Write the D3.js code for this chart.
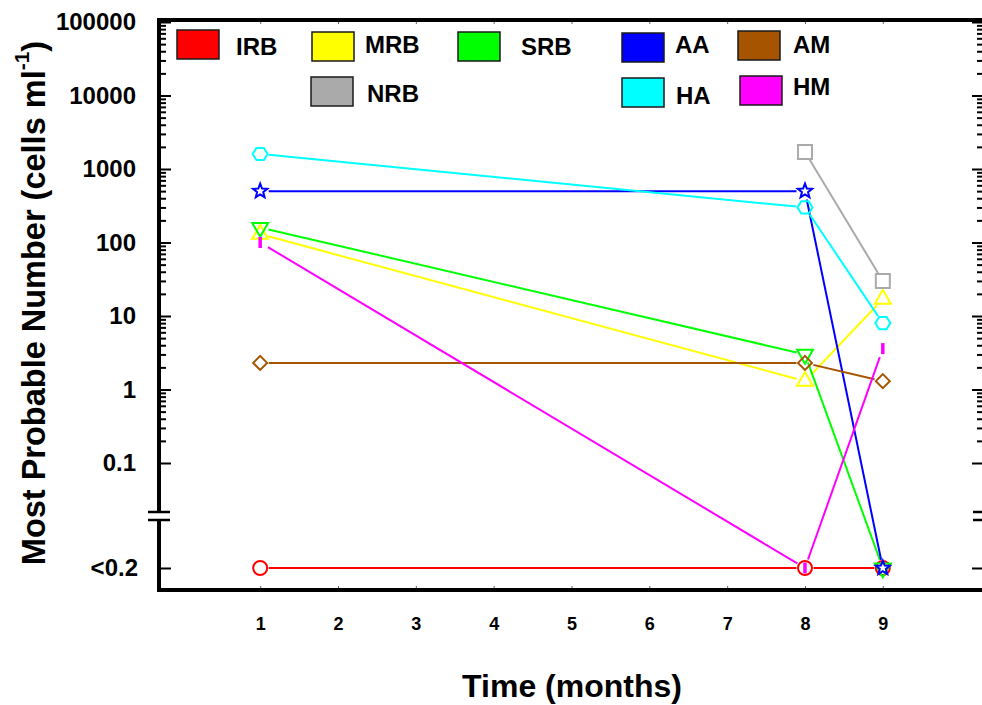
<!DOCTYPE html>
<html>
<head>
<meta charset="utf-8">
<script src="https://cdn.jsdelivr.net/npm/d3@7"></script>
<style>
  html, body { margin: 0; padding: 0; background: #fff; }
  svg { display: block; font-family: "Liberation Sans", Arial, sans-serif; font-weight: bold; }
</style>
</head>
<body>
<svg id="chart" width="982" height="705"></svg>
<script>
// ---- data -------------------------------------------------------------
const BELOW = "<0.2";                 // below detection limit
const months = [1, 8, 9];
const xTicks = [1, 2, 3, 4, 5, 6, 7, 8, 9];

const IRB = [BELOW, BELOW, BELOW];
const MRB = [130, 1.3, 17];
const SRB = [160, 3, BELOW];
const NRB = [null, 1700, 30];
const AA  = [500, 500, BELOW];
const AM  = [2.3, 2.3, 1.3];
const HA  = [1600, 300, 8];
const HM  = [100, BELOW, 3.6];

const seriesNames  = ["IRB", "MRB", "SRB", "NRB", "AA", "AM", "HA", "HM"];
const seriesValues = [IRB, MRB, SRB, NRB, AA, AM, HA, HM];

const yMajorTicks = [0.1, 1, 10, 100, 1000, 10000, 100000];
const yTickLabels = ["0.1", "1", "10", "100", "1000", "10000", "100000"];

// ---- styles -------------------------------------------------------------
const colors = {
  IRB: "#ff0000", MRB: "#ffff00", SRB: "#00ff00", NRB: "#aaaaaa",
  AA: "#0000ff", AM: "#a65400", HA: "#00ffff", HM: "#ff00ff"
};
const shapes = {
  IRB: "circle", MRB: "triUp", SRB: "triDown", NRB: "square",
  AA: "star", AM: "diamond", HA: "hexagon", HM: "dash"
};

// legend placement: swatch top-left and label baseline
const legendLayout = {
  IRB: { sx: 177, sy: 30, tx: 236, ty: 55 },
  MRB: { sx: 312, sy: 32, tx: 365, ty: 53 },
  SRB: { sx: 458, sy: 32, tx: 521, ty: 55 },
  NRB: { sx: 311, sy: 77, tx: 367, ty: 102 },
  AA:  { sx: 622, sy: 33, tx: 675, ty: 53 },
  AM:  { sx: 738, sy: 31, tx: 793, ty: 53 },
  HA:  { sx: 622, sy: 78, tx: 676, ty: 104 },
  HM:  { sx: 740, sy: 76, tx: 793, ty: 95 }
};

// ---- frame ----------------------------------------------------------------
const frameLeft = 159, frameRight = 984, frameTop = 20, frameBottom = 590;
const breakTop = 512, breakBottom = 520;

const svg = d3.select("#chart");

const x = d3.scaleLinear().domain([-0.3, 10.3]).range([frameLeft, frameRight]);
const yLog = d3.scaleLog().domain([1e5, 0.1]).range([22, 463]);
const yLow = d3.scalePoint().domain([BELOW]).range([568, 568]);
const yVal = v => (v === BELOW ? yLow(v) : yLog(v));

const minorTicks = [];
yMajorTicks.slice(0, -1).forEach(d => {
  for (let k = 2; k <= 9; k++) minorTicks.push(d * k);
});

function styleAxis(g, fontSize) {
  g.select(".domain").remove();
  g.selectAll(".tick line").attr("stroke", "#000").attr("stroke-width", 2);
  g.selectAll(".tick text")
    .attr("fill", "#000")
    .attr("font-size", fontSize)
    .attr("font-weight", "bold")
    .attr("font-family", "'Liberation Sans', Arial, sans-serif");
  g.attr("font-family", null).attr("font-size", null);
}

// left axis: major, minor, lower segment
svg.append("g").attr("transform", `translate(${frameLeft},0)`)
  .call(d3.axisLeft(yLog).tickValues(yMajorTicks)
    .tickFormat((d, i) => yTickLabels[i]).tickSize(-12).tickPadding(23))
  .call(g => styleAxis(g, 24));
svg.append("g").attr("transform", `translate(${frameLeft},0)`)
  .call(d3.axisLeft(yLog).tickValues(minorTicks).tickFormat("").tickSize(-7))
  .call(g => styleAxis(g, 24));
svg.append("g").attr("transform", `translate(${frameLeft},0)`)
  .call(d3.axisLeft(yLow).tickSize(-12).tickPadding(21))
  .call(g => styleAxis(g, 24));

// right axis mirrors the left ticks
svg.append("g").attr("transform", `translate(${frameRight},0)`)
  .call(d3.axisRight(yLog).tickValues(yMajorTicks).tickFormat("").tickSize(-12))
  .call(g => styleAxis(g, 24));
svg.append("g").attr("transform", `translate(${frameRight},0)`)
  .call(d3.axisRight(yLog).tickValues(minorTicks).tickFormat("").tickSize(-7))
  .call(g => styleAxis(g, 24));
svg.append("g").attr("transform", `translate(${frameRight},0)`)
  .call(d3.axisRight(yLow).tickFormat("").tickSize(-12))
  .call(g => styleAxis(g, 24));

// bottom and top axes
svg.append("g").attr("transform", `translate(0,${frameBottom})`)
  .call(d3.axisBottom(x).tickValues(xTicks).tickFormat(d3.format("d"))
    .tickSize(-4).tickPadding(27))
  .call(g => styleAxis(g, 18))
  .call(g => g.selectAll(".tick line").attr("stroke-width", 1).attr("stroke", "#666"));
svg.append("g").attr("transform", `translate(0,${frameTop})`)
  .call(d3.axisTop(x).tickValues(xTicks).tickFormat("").tickSize(-4))
  .call(g => styleAxis(g, 18))
  .call(g => g.selectAll(".tick line").attr("stroke-width", 1).attr("stroke", "#666"));

// frame lines with the axis break
const frame = svg.append("g").attr("stroke", "#000").attr("stroke-width", 4).attr("fill", "none");
frame.append("line").attr("x1", frameLeft - 2).attr("x2", frameRight + 2).attr("y1", frameTop).attr("y2", frameTop);
frame.append("line").attr("x1", frameLeft - 2).attr("x2", frameRight + 2).attr("y1", frameBottom).attr("y2", frameBottom);
[frameLeft, frameRight].forEach(ax => {
  frame.append("line").attr("x1", ax).attr("x2", ax).attr("y1", frameTop).attr("y2", breakTop);
  frame.append("line").attr("x1", ax).attr("x2", ax).attr("y1", breakBottom).attr("y2", frameBottom);
});
const breaks = svg.append("g").attr("stroke", "#000").attr("stroke-width", 2.5);
[breakTop, breakBottom].forEach(by => {
  breaks.append("line").attr("x1", frameLeft - 11).attr("x2", frameLeft + 11).attr("y1", by).attr("y2", by);
  breaks.append("line").attr("x1", frameRight - 11).attr("x2", frameRight + 11).attr("y1", by).attr("y2", by);
});

// ---- markers ---------------------------------------------------------------
function markerPath(shape) {
  const p = d3.path();
  switch (shape) {
    case "circle":
      p.arc(0, 0, 7, 0, 2 * Math.PI); break;
    case "triUp": {
      const a = 4.6;
      p.moveTo(0, -2 * a); p.lineTo(-Math.sqrt(3) * a, a); p.lineTo(Math.sqrt(3) * a, a); p.closePath(); break;
    }
    case "triDown": {
      const a = 4.6;
      p.moveTo(0, 2 * a); p.lineTo(-Math.sqrt(3) * a, -a); p.lineTo(Math.sqrt(3) * a, -a); p.closePath(); break;
    }
    case "square":
      p.rect(-7, -7, 14, 14); break;
    case "diamond":
      p.moveTo(0, -7); p.lineTo(7, 0); p.lineTo(0, 7); p.lineTo(-7, 0); p.closePath(); break;
    case "hexagon":
      for (let i = 0; i < 6; i++) {
        const ang = i * Math.PI / 3;
        const px = 7.5 * Math.cos(ang), py = 7 * Math.sin(ang);
        if (i === 0) p.moveTo(px, py); else p.lineTo(px, py);
      }
      p.closePath(); break;
    case "star":
      for (let i = 0; i < 10; i++) {
        const r = i % 2 === 0 ? 7.5 : 3.2;
        const ang = -Math.PI / 2 + i * Math.PI / 5;
        const px = r * Math.cos(ang), py = r * Math.sin(ang);
        if (i === 0) p.moveTo(px, py); else p.lineTo(px, py);
      }
      p.closePath(); break;
    case "dash":
      p.moveTo(0, -5.5); p.lineTo(0, 5.5); break;
  }
  return p.toString();
}

const plot = svg.append("g");

// connecting lines, stopped at the symbol edge
seriesNames.forEach((name, si) => {
  const vals = seriesValues[si];
  const pts = months.map((m, i) => vals[i] == null ? null : [x(m), yVal(vals[i])]);
  const gap = shapes[name] === "dash" ? 9 : 8.5;
  for (let i = 0; i < pts.length - 1; i++) {
    const a = pts[i], b = pts[i + 1];
    if (!a || !b) continue;
    const dx = b[0] - a[0], dy = b[1] - a[1];
    const len = Math.hypot(dx, dy);
    if (len <= 2 * gap) continue;
    const ux = dx / len, uy = dy / len;
    plot.append("line")
      .attr("x1", a[0] + ux * gap).attr("y1", a[1] + uy * gap)
      .attr("x2", b[0] - ux * gap).attr("y2", b[1] - uy * gap)
      .attr("stroke", colors[name]).attr("stroke-width", 2);
  }
});

// symbols
seriesNames.forEach((name, si) => {
  const vals = seriesValues[si];
  const data = months.map((m, i) => ({ m, v: vals[i] })).filter(d => d.v != null);
  plot.selectAll(null).data(data).enter().append("path")
    .attr("transform", d => `translate(${x(d.m)},${yVal(d.v)})`)
    .attr("d", markerPath(shapes[name]))
    .attr("fill", "none")
    .attr("stroke", colors[name])
    .attr("stroke-width", shapes[name] === "dash" ? 3.5 : 2)
    .attr("stroke-linejoin", "miter");
});

// ---- legend ------------------------------------------------------------------
const legend = svg.append("g");
seriesNames.forEach(name => {
  const L = legendLayout[name];
  legend.append("rect")
    .attr("x", L.sx).attr("y", L.sy).attr("width", 42).attr("height", 29)
    .attr("fill", colors[name]).attr("stroke", "#1a1a1a").attr("stroke-width", 1.5);
  legend.append("text")
    .attr("x", L.tx).attr("y", L.ty)
    .attr("font-size", 24).attr("fill", "#000")
    .text(name);
});

// ---- axis titles ----------------------------------------------------------
svg.append("text")
  .attr("x", 572).attr("y", 697)
  .attr("text-anchor", "middle").attr("font-size", 32).attr("fill", "#000")
  .text("Time (months)");

const yTitle = svg.append("text")
  .attr("transform", "translate(45,303) rotate(-90)")
  .attr("text-anchor", "middle").attr("font-size", 32.5).attr("fill", "#000");
yTitle.append("tspan").text("Most Probable Number (cells ml");
yTitle.append("tspan").attr("font-size", 21).attr("dy", -16).text("-1");
yTitle.append("tspan").attr("dy", 16).text(")");
</script>
</body>
</html>
